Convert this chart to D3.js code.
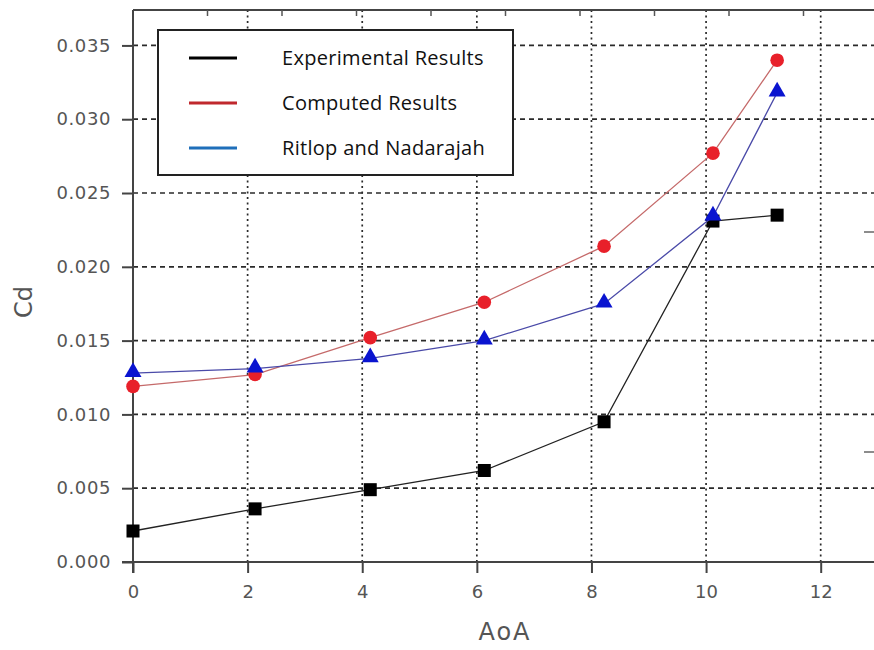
<!DOCTYPE html>
<html>
<head>
<meta charset="utf-8">
<script src="https://cdn.jsdelivr.net/npm/d3@7"></script>
<style>
  html, body { margin: 0; padding: 0; background: #fff; }
  svg { display: block; }
</style>
</head>
<body>
<svg id="chart" width="874" height="650"></svg>
<script>
// Drag coefficient vs. angle of attack
const aoa          = [0, 2.13, 4.14, 6.13, 8.22, 10.12, 11.24];
const experimental = [0.0021, 0.0036, 0.0049, 0.0062, 0.0095, 0.0231, 0.0235];
const computed     = [0.0119, 0.0127, 0.0152, 0.0176, 0.0214, 0.0277, 0.0340];
const ritlop       = [0.0128, 0.0131, 0.0138, 0.0150, 0.0175, 0.0234, 0.0318];

const seriesNames  = ["Experimental Results", "Computed Results", "Ritlop and Nadarajah"];
const xTicks       = [0, 2, 4, 6, 8, 10, 12];
const yTicks       = [0, 0.005, 0.010, 0.015, 0.020, 0.025, 0.030, 0.035];
const topTicks     = [1, 2, 3, 4, 5, 6, 7, 8, 9];
const rightTicks   = [1, 2];

const svg = d3.select("#chart");
const L = 133, R = 878, T = 10, B = 562;

const x = d3.scaleLinear().domain([0, 13]).range([L, R]);
const y = d3.scaleLinear().domain([0, 0.0374]).range([B, T]);
const xTop = d3.scaleLinear().domain([0, 10]).range([L, R]);
const yRight = d3.scaleLinear().domain([0, 2.5]).range([672, 122]);

const fmt = d3.format(".3f");
const gridColor = "#2a2a2a";

// grid
const grid = svg.append("g");
grid.selectAll("line.h").data(yTicks.filter(d => d > 0)).join("line")
  .attr("x1", L).attr("x2", R)
  .attr("y1", d => y(d)).attr("y2", d => y(d))
  .attr("stroke", gridColor).attr("stroke-width", 1.7)
  .attr("stroke-dasharray", "5,4");
grid.selectAll("line.v").data(xTicks.filter(d => d > 0)).join("line")
  .attr("x1", d => x(d)).attr("x2", d => x(d))
  .attr("y1", B).attr("y2", T)
  .attr("stroke", gridColor).attr("stroke-width", 1.7)
  .attr("stroke-dasharray", "2,3.5");

// frame
const axisColor = "#444";
svg.append("line").attr("x1", L).attr("x2", 874).attr("y1", T).attr("y2", T)
  .attr("stroke", axisColor).attr("stroke-width", 2);

// bottom axis
const xAxis = svg.append("g").attr("transform", `translate(0,${B})`)
  .call(d3.axisBottom(x).tickValues(xTicks).tickSize(11).tickPadding(12).tickSizeOuter(0));
xAxis.select(".domain").remove();
xAxis.selectAll(".tick line").attr("stroke", axisColor).attr("stroke-width", 2);
xAxis.selectAll(".tick text").attr("fill", "#555")
  .style("font-family", "DejaVu Sans").style("font-size", "18px");
svg.append("line").attr("x1", L - 11).attr("x2", 874).attr("y1", B).attr("y2", B)
  .attr("stroke", axisColor).attr("stroke-width", 2);

// left axis
const yAxis = svg.append("g").attr("transform", `translate(${L},0)`)
  .call(d3.axisLeft(y).tickValues(yTicks).tickFormat(fmt).tickSize(11).tickPadding(11).tickSizeOuter(0));
yAxis.select(".domain").remove();
yAxis.selectAll(".tick line").attr("stroke", axisColor).attr("stroke-width", 2);
yAxis.selectAll(".tick text").attr("fill", "#555")
  .style("font-family", "DejaVu Sans").style("font-size", "18px")
  .attr("letter-spacing", "0.6px");
svg.append("line").attr("x1", L).attr("x2", L).attr("y1", T).attr("y2", B + 11)
  .attr("stroke", axisColor).attr("stroke-width", 2);

// secondary top and right tick marks
svg.append("g").selectAll("line").data(topTicks).join("line")
  .attr("x1", d => xTop(d)).attr("x2", d => xTop(d))
  .attr("y1", T).attr("y2", T + 6)
  .attr("stroke", "#555").attr("stroke-width", 1.5);
svg.append("g").selectAll("line").data(rightTicks).join("line")
  .attr("x1", 864).attr("x2", 874)
  .attr("y1", d => yRight(d)).attr("y2", d => yRight(d))
  .attr("stroke", "#666").attr("stroke-width", 1.5);

// axis titles
svg.append("text").attr("x", 505).attr("y", 640).attr("text-anchor", "middle")
  .attr("fill", "#555").style("font-family", "DejaVu Sans").style("font-size", "24px")
  .attr("letter-spacing", "2px").text("AoA");
svg.append("text").attr("transform", "translate(32,302) rotate(-90)")
  .attr("text-anchor", "middle").attr("fill", "#555")
  .style("font-family", "DejaVu Sans").style("font-size", "24px").text("Cd");

// series
const line = d3.line().x(d => x(d[0])).y(d => y(d[1]));
const pts = vals => aoa.map((a, i) => [a, vals[i]]);

const gSeries = svg.append("g");

// experimental: black squares
gSeries.append("path").datum(pts(experimental)).attr("d", line)
  .attr("fill", "none").attr("stroke", "#222").attr("stroke-width", 1.3);
gSeries.append("g").selectAll("rect").data(pts(experimental)).join("rect")
  .attr("x", d => x(d[0]) - 6.5).attr("y", d => y(d[1]) - 6.5)
  .attr("width", 13).attr("height", 13).attr("fill", "#000");

// computed: red circles
gSeries.append("path").datum(pts(computed)).attr("d", line)
  .attr("fill", "none").attr("stroke", "#c56a6a").attr("stroke-width", 1.3);
gSeries.append("g").selectAll("circle").data(pts(computed)).join("circle")
  .attr("cx", d => x(d[0])).attr("cy", d => y(d[1])).attr("r", 6.8)
  .attr("fill", "#e8202a");

// Ritlop and Nadarajah: blue triangles
gSeries.append("path").datum(pts(ritlop)).attr("d", line)
  .attr("fill", "none").attr("stroke", "#4a4aa8").attr("stroke-width", 1.3);
const tri = d3.symbol().type(d3.symbolTriangle).size(125);
gSeries.append("g").selectAll("path").data(pts(ritlop)).join("path")
  .attr("transform", d => `translate(${x(d[0])},${y(d[1]) - 1})`)
  .attr("d", tri).attr("fill", "#0a14d0");

// legend
const legendColors = ["#000", "#c0282d", "#1f6fba"];
const lg = svg.append("g");
lg.append("rect").attr("x", 158).attr("y", 30).attr("width", 355).attr("height", 145)
  .attr("fill", "#fff").attr("stroke", "#222").attr("stroke-width", 2);
seriesNames.forEach((name, i) => {
  const cy = 58 + i * 45;
  lg.append("line").attr("x1", 189).attr("x2", 237).attr("y1", cy).attr("y2", cy)
    .attr("stroke", legendColors[i]).attr("stroke-width", 3);
  lg.append("text").attr("x", 282).attr("y", cy + 7)
    .attr("fill", "#111").style("font-family", "Open Sans").style("font-size", "20px")
    .attr("letter-spacing", "0.3px")
    .text(name);
});
</script>
</body>
</html>
